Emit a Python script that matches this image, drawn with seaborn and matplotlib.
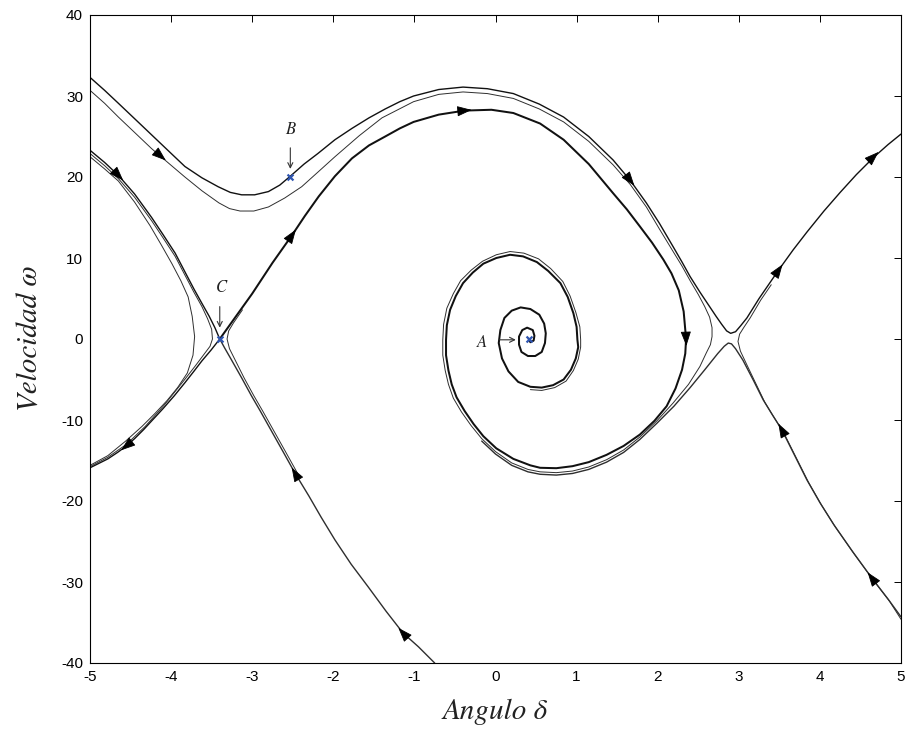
import matplotlib
matplotlib.use("Agg")
import matplotlib.pyplot as plt
import numpy as np
import pandas as pd
import seaborn as sns
from matplotlib.patches import FancyArrowPatch

# ---------------------------------------------------------------
# Phase-plane trajectories: rotor angle delta vs. speed omega
# ---------------------------------------------------------------

# unstable branch leaving saddle C, over the top, spiralling into A
SPIRAL_DELTA = [-3.40, -3.20, -3.00, -2.75, -2.51, -2.35, -2.18, -1.98, -1.77, -1.56,
                -1.36, -1.18, -1.01, -0.70, -0.38, -0.05, 0.22, 0.55, 0.84, 1.15,
                1.45, 1.62, 1.78, 1.93, 2.07, 2.17, 2.26, 2.32, 2.35, 2.34,
                2.30, 2.22, 2.11, 1.96, 1.78, 1.58, 1.37, 1.15, 0.95, 0.75,
                0.55, 0.43, 0.22, 0.01, -0.15, -0.27, -0.38, -0.48, -0.54, -0.58,
                -0.61, -0.61, -0.60, -0.56, -0.49, -0.40, -0.28, -0.15, 0.01, 0.18,
                0.34, 0.51, 0.65, 0.80, 0.89, 0.96, 1.00, 1.01, 1.02, 0.99,
                0.93, 0.84, 0.71, 0.57, 0.43, 0.28, 0.16, 0.08, 0.04, 0.06,
                0.11, 0.20, 0.31, 0.43, 0.54, 0.60, 0.62, 0.61, 0.57, 0.49,
                0.40, 0.32, 0.29, 0.29, 0.33, 0.39, 0.46, 0.48, 0.47, 0.43, 0.41]
SPIRAL_OMEGA = [0.0, 2.8, 5.6, 9.4, 12.8, 15.2, 17.6, 20.1, 22.3, 23.9,
                25.0, 26.0, 26.8, 27.7, 28.2, 28.3, 27.9, 26.6, 24.6, 21.6,
                18.0, 16.0, 13.9, 11.9, 9.8, 8.1, 6.0, 3.4, 0.0, -1.8,
                -3.8, -6.1, -8.3, -10.1, -11.8, -13.2, -14.3, -15.2, -15.7, -15.95,
                -15.9, -15.6, -14.8, -13.5, -12.0, -10.5, -8.9, -7.2, -5.6, -3.9,
                -2.0, -0.1, 1.7, 3.6, 5.3, 6.9, 8.2, 9.3, 10.0, 10.4,
                10.2, 9.5, 8.4, 6.9, 5.2, 3.2, 1.5, -0.1, -1.0, -2.4,
                -3.8, -5.0, -5.7, -6.0, -5.9, -5.3, -4.0, -2.4, -0.5, 1.1,
                2.6, 3.5, 3.9, 3.7, 3.0, 1.9, 0.7, -0.5, -1.6, -2.1,
                -2.1, -1.6, -0.7, 0.3, 1.1, 1.4, 1.1, 0.4, -0.2, -0.4, 0.0]

# outer trajectory passing over saddle at delta ~ 2.9 (through B)
UPPER_DELTA = [-5.00, -4.82, -4.65, -4.45, -4.24, -4.03, -3.83, -3.62, -3.42, -3.27,
               -3.13, -2.97, -2.80, -2.66, -2.53, -2.36, -2.19, -1.98, -1.77, -1.56,
               -1.36, -1.18, -1.01, -0.70, -0.40, -0.10, 0.22, 0.54, 0.84, 1.15,
               1.45, 1.66, 1.86, 2.02, 2.19, 2.30, 2.40, 2.52, 2.64, 2.72,
               2.79, 2.85, 2.90, 2.96, 3.02, 3.10, 3.25, 3.49, 3.67, 3.84,
               4.05, 4.25, 4.45, 4.66, 4.84, 5.00]
UPPER_OMEGA = [32.3, 30.7, 29.1, 27.2, 25.2, 23.2, 21.3, 19.9, 18.8, 18.1,
               17.8, 17.8, 18.2, 19.0, 20.1, 21.6, 22.9, 24.6, 26.0, 27.3,
               28.4, 29.3, 30.0, 30.8, 31.1, 30.9, 30.3, 29.0, 27.4, 25.0,
               22.1, 19.6, 16.8, 14.3, 11.4, 9.5, 7.7, 5.8, 4.0, 2.8,
               1.8, 1.0, 0.7, 0.9, 1.6, 2.6, 5.0, 8.5, 11.0, 13.2,
               15.8, 18.1, 20.3, 22.4, 24.0, 25.3]

# trajectory just below it, turning back before the saddle
UPPER2_DELTA = [-5.00, -4.82, -4.65, -4.45, -4.24, -4.03, -3.83, -3.62, -3.41, -3.28,
                -3.15, -2.98, -2.80, -2.60, -2.39, -2.19, -1.98, -1.68, -1.40, -1.01,
                -0.70, -0.40, -0.10, 0.22, 0.54, 0.84, 1.15, 1.45, 1.66, 1.86,
                2.02, 2.19, 2.30, 2.40, 2.50, 2.58, 2.64, 2.67, 2.67, 2.65,
                2.60, 2.52, 2.38, 2.19, 1.99, 1.78, 1.58, 1.37, 1.15, 0.95,
                0.75, 0.55, 0.40, 0.20, 0.00, -0.17, -0.30, -0.42, -0.52, -0.58,
                -0.62, -0.65, -0.65, -0.64, -0.60, -0.52, -0.43, -0.30, -0.16, 0.01,
                0.18, 0.35, 0.53, 0.68, 0.83, 0.92, 0.99, 1.04, 1.05, 1.05,
                1.02, 0.96, 0.87, 0.73, 0.57, 0.43]
UPPER2_OMEGA = [30.7, 29.1, 27.4, 25.5, 23.5, 21.7, 20.0, 18.3, 16.8, 16.1,
                15.8, 15.8, 16.3, 17.4, 18.8, 20.6, 22.5, 25.1, 27.3, 29.3,
                30.2, 30.5, 30.3, 29.7, 28.4, 26.8, 24.4, 21.5, 19.1, 16.3,
                13.6, 10.8, 9.0, 7.2, 5.5, 4.0, 2.7, 1.4, 0.3, -0.7,
                -1.7, -3.4, -5.6, -7.9, -10.1, -12.1, -13.7, -14.9, -15.8, -16.3,
                -16.5, -16.4, -16.1, -15.3, -13.9, -12.3, -10.7, -9.0, -7.3, -5.6,
                -3.9, -2.0, -0.1, 1.8, 3.8, 5.6, 7.2, 8.5, 9.6, 10.4,
                10.8, 10.6, 9.9, 8.7, 7.1, 5.3, 3.3, 1.5, -0.1, -1.0,
                -2.5, -3.9, -5.2, -6.0, -6.35, -6.25]

# from the lower right into the right saddle, then down-left towards A
RIGHT_IN_DELTA = [5.00, 4.84, 4.64, 4.40, 4.17, 4.00, 3.84, 3.68, 3.53, 3.41,
                  3.30, 3.18, 3.05, 2.96, 2.91, 2.87, 2.82, 2.74, 2.58, 2.40,
                  2.20, 1.99, 1.78, 1.58, 1.37, 1.15, 0.95, 0.75, 0.55, 0.40,
                  0.20, 0.00, -0.17]
RIGHT_IN_OMEGA = [-34.3, -32.1, -29.5, -26.2, -22.9, -20.2, -17.4, -14.2, -11.2, -9.3,
                  -7.5, -5.1, -2.6, -1.2, -0.6, -0.5, -0.9, -1.8, -3.8, -6.0,
                  -8.3, -10.4, -12.4, -14.0, -15.2, -16.1, -16.6, -16.8, -16.7, -16.4,
                  -15.6, -14.2, -12.6]

# companion from the lower right, leaving up-right past the saddle
RIGHT_IN2_DELTA = [5.00, 4.86, 4.66, 4.42, 4.19, 4.02, 3.86, 3.70, 3.55, 3.43,
                   3.32, 3.21, 3.10, 3.02, 2.99, 3.01, 3.06, 3.14, 3.27, 3.40]
RIGHT_IN2_OMEGA = [-34.6, -32.4, -29.8, -26.5, -23.2, -20.5, -17.7, -14.5, -11.5, -9.6,
                   -7.8, -5.5, -3.2, -1.5, -0.3, 0.6, 1.4, 2.6, 4.8, 6.7]

# stable branch of C from the upper left
C_UL_DELTA = [-5.00, -4.82, -4.65, -4.45, -4.24, -4.10, -3.95, -3.83, -3.72, -3.62,
              -3.53, -3.46, -3.40]
C_UL_OMEGA = [23.3, 21.8, 20.2, 17.9, 15.0, 12.9, 10.6, 8.3, 6.2, 4.4,
              2.8, 1.4, 0.0]

# neighbour passing just left of C
C_UL2_DELTA = [-5.00, -4.82, -4.65, -4.45, -4.24, -4.10, -3.95, -3.83, -3.72, -3.62,
               -3.55, -3.50, -3.49, -3.52, -3.58, -3.70, -3.84, -4.08, -4.32, -4.55,
               -4.78, -5.00]
C_UL2_OMEGA = [22.9, 21.4, 19.8, 17.5, 14.6, 12.5, 10.2, 7.9, 5.8, 4.0,
               2.5, 1.2, 0.0, -0.9, -1.7, -3.3, -5.1, -8.1, -10.8, -13.0,
               -14.6, -15.75]

# trajectory turning back at delta ~ -3.7
TURN_DELTA = [-5.00, -4.82, -4.65, -4.45, -4.26, -4.12, -3.99, -3.88, -3.79, -3.74,
              -3.71, -3.73, -3.80, -3.92, -4.05, -4.20, -4.36, -4.56, -4.78, -5.00]
TURN_OMEGA = [22.5, 21.0, 19.5, 16.9, 14.0, 11.6, 9.3, 7.2, 5.2, 2.8,
              0.3, -2.0, -4.2, -6.0, -7.6, -9.2, -10.8, -12.6, -14.4, -15.6]

# unstable branch of C towards the lower left
C_LL_DELTA = [-3.40, -3.51, -3.62, -3.72, -3.83, -3.96, -4.10, -4.22, -4.34, -4.45,
              -4.55, -4.66, -4.78, -4.90, -5.00]
C_LL_OMEGA = [0.0, -1.4, -2.7, -4.0, -5.4, -7.0, -8.6, -9.9, -11.2, -12.3,
              -13.2, -14.0, -14.8, -15.4, -15.9]

# stable branch of C from the lower right
C_LR_DELTA = [-0.75, -0.95, -1.14, -1.35, -1.57, -1.78, -1.98, -2.15, -2.30, -2.47,
              -2.62, -2.76, -2.90, -3.01, -3.13, -3.26, -3.34, -3.40]
C_LR_OMEGA = [-40.0, -38.0, -36.3, -33.6, -30.6, -27.8, -24.8, -22.0, -19.4, -16.6,
              -13.9, -11.4, -8.9, -7.0, -4.8, -2.5, -1.1, 0.0]

# neighbour passing just right of C, leaving up-right
C_LR2_DELTA = [-2.44, -2.59, -2.73, -2.87, -2.98, -3.10, -3.21, -3.28, -3.31, -3.29,
               -3.23, -3.12]
C_LR2_OMEGA = [-16.6, -13.9, -11.4, -8.9, -7.0, -4.8, -2.6, -1.2, 0.0, 1.0,
               2.0, 3.6]

# marked points
POINT_NAMES = ["A", "B", "C"]
POINT_DELTA = [0.41, -2.53, -3.40]
POINT_OMEGA = [0.0, 20.0, 0.0]

# direction arrows: (trajectory, delta, omega)
ARROWS = [("upper2", -4.13, 22.6), ("c_ul", -4.65, 20.2), ("spiral", -2.51, 12.8),
          ("spiral", -0.38, 28.2), ("spiral", 2.35, 0.0), ("upper", 1.66, 19.6),
          ("upper", 3.49, 8.5), ("upper", 4.66, 22.5), ("c_ll", -4.55, -13.2),
          ("c_lr", -2.47, -16.6), ("c_lr", -1.14, -36.3), ("right_in", 3.53, -11.2),
          ("right_in", 4.64, -29.5)]

# ---------------------------------------------------------------
sns.set_theme(style="white")
plt.rcParams["font.family"] = ["Liberation Sans", "DejaVu Sans"]
plt.rcParams["axes.unicode_minus"] = False
plt.rcParams["mathtext.fontset"] = "stix"

W, H = 906, 735
fig = plt.figure(figsize=(W / 100, H / 100), dpi=100)
ax = fig.add_axes([90 / W, 1 - 663 / H, (901 - 90) / W, (663 - 15) / H])

THICK, MID, THIN = 1.45, 1.0, 0.7
DARK, GREY = "#111111", "#2e2e2e"
curves = {
    "spiral": (SPIRAL_DELTA, SPIRAL_OMEGA, THICK, DARK),
    "upper": (UPPER_DELTA, UPPER_OMEGA, MID, DARK),
    "upper2": (UPPER2_DELTA, UPPER2_OMEGA, THIN, GREY),
    "right_in": (RIGHT_IN_DELTA, RIGHT_IN_OMEGA, MID, GREY),
    "right_in2": (RIGHT_IN2_DELTA, RIGHT_IN2_OMEGA, THIN, GREY),
    "c_ul": (C_UL_DELTA, C_UL_OMEGA, MID, DARK),
    "c_ul2": (C_UL2_DELTA, C_UL2_OMEGA, THIN, GREY),
    "turn": (TURN_DELTA, TURN_OMEGA, THIN, GREY),
    "c_ll": (C_LL_DELTA, C_LL_OMEGA, MID, DARK),
    "c_lr": (C_LR_DELTA, C_LR_OMEGA, MID, GREY),
    "c_lr2": (C_LR2_DELTA, C_LR2_OMEGA, THIN, GREY),
}

for name, (d, w, lw, col) in curves.items():
    df = pd.DataFrame({"delta": d, "omega": w})
    sns.lineplot(data=df, x="delta", y="omega", sort=False, estimator=None,
                 color=col, linewidth=lw, ax=ax)

ax.set_xlim(-5, 5)
ax.set_ylim(-40, 40)
ax.set_xticks(range(-5, 6))
ax.set_yticks(range(-40, 41, 10))
ax.set_xlabel("")
ax.set_ylabel("")

# arrowheads along the trajectories, oriented in screen space
fig.canvas.draw()
to_disp = ax.transData
to_data = ax.transData.inverted()
for name, d0, w0 in ARROWS:
    d, w = curves[name][0], curves[name][1]
    pts = to_disp.transform(np.column_stack([d, w]))
    c = to_disp.transform((d0, w0))
    i = int(np.argmin(np.hypot(pts[:, 0] - c[0], pts[:, 1] - c[1])))
    a = pts[max(i - 1, 0)]
    b = pts[min(i + 1, len(pts) - 1)]
    u = (b - a) / np.hypot(*(b - a))
    tail = to_data.transform(c - u * 7)
    tip = to_data.transform(c + u * 7)
    ax.add_patch(FancyArrowPatch(tail, tip, arrowstyle="-|>,head_length=0.7,head_width=0.25",
                                 mutation_scale=13, color="black", lw=0.6,
                                 shrinkA=0, shrinkB=0, zorder=5))

# marked points and their labels
ax.scatter(POINT_DELTA, POINT_OMEGA, marker="x", s=18, color="#2f55b0",
           linewidths=1.6, zorder=6)
serif = dict(family="STIXGeneral", style="italic", color="#222222")
arrow_kw = dict(arrowstyle="->", lw=0.8, color="#333333", shrinkA=0, shrinkB=0,
                mutation_scale=9)
pa = dict(zip(POINT_NAMES, zip(POINT_DELTA, POINT_OMEGA)))
ax.text(pa["A"][0] - 0.58, pa["A"][1] - 0.4, "A", fontsize=12, ha="center",
        va="center", **serif)
ax.annotate("", xy=(pa["A"][0] - 0.16, pa["A"][1] - 0.1),
            xytext=(pa["A"][0] - 0.36, pa["A"][1] - 0.1), arrowprops=arrow_kw)
ax.text(pa["B"][0], pa["B"][1] + 5.8, "B", fontsize=12, ha="center",
        va="center", **serif)
ax.annotate("", xy=(pa["B"][0], pa["B"][1] + 1.0),
            xytext=(pa["B"][0], pa["B"][1] + 3.6), arrowprops=arrow_kw)
ax.text(pa["C"][0] + 0.02, pa["C"][1] + 6.3, "C", fontsize=12, ha="center",
        va="center", **serif)
ax.annotate("", xy=(pa["C"][0], pa["C"][1] + 1.4),
            xytext=(pa["C"][0], pa["C"][1] + 4.0), arrowprops=arrow_kw)

# frame and ticks
for s in ax.spines.values():
    s.set_color("black")
    s.set_linewidth(0.8)
    s.set_visible(True)
ax.tick_params(direction="in", length=5, width=0.7, top=True, right=True,
               labelsize=11, pad=5, colors="black")
for lab in ax.get_xticklabels() + ax.get_yticklabels():
    lab.set_family(["Liberation Sans", "DejaVu Sans"])

fig.text(495 / W, 1 - 712 / H, "Angulo δ", ha="center", va="center",
         fontsize=21, **serif)
fig.text(30 / W, 1 - 338 / H, "Velocidad ω", ha="center", va="center",
         rotation=90, fontsize=21, **serif)

fig.savefig("out.png", dpi=100)
